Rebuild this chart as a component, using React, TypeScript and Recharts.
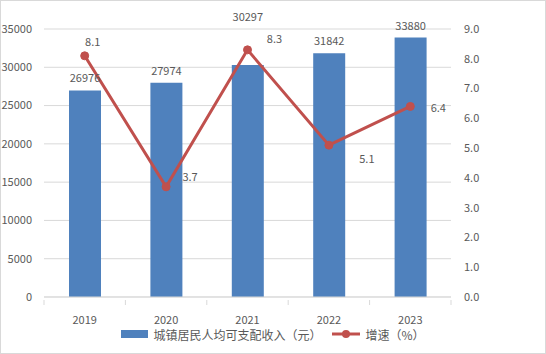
import React from 'react';
import { ComposedChart, Bar, Line, XAxis, YAxis, CartesianGrid, Legend, LabelList } from 'recharts';

const years = ['2019', '2020', '2021', '2022', '2023'];
const income = [26976, 27974, 30297, 31842, 33880];
const growth = [8.1, 3.7, 8.3, 5.1, 6.4];
const leftTicks = [0, 5000, 10000, 15000, 20000, 25000, 30000, 35000];
const rightTicks = [0, 1, 2, 3, 4, 5, 6, 7, 8, 9];

const data = years.map((y, i) => ({ year: y, income: income[i], growth: growth[i] }));

const TEXT = '#595959';
const FONT = '"Noto Sans CJK SC", "Noto Sans", sans-serif';

const barLabelOffsets = [-8, -8, -44, -8, -8];
const lineLabelOffsets: [number, number][] = [
  [8, -15],
  [24, -11],
  [27, -12],
  [38, 13],
  [28, 1],
];

const BarLabel = (props: any) => {
  const { x, y, width, value, index } = props;
  return (
    <text x={x + width / 2} y={y + barLabelOffsets[index]} textAnchor="middle" fill={TEXT} fontSize={11} fontFamily={FONT}>
      {value}
    </text>
  );
};

const LineLabel = (props: any) => {
  const { x, y, value, index } = props;
  const [dx, dy] = lineLabelOffsets[index];
  return (
    <text x={x + dx} y={y + dy} textAnchor="middle" dominantBaseline="central" fill={TEXT} fontSize={11} fontFamily={FONT}>
      {Number(value).toFixed(1)}
    </text>
  );
};

const XTick = (props: any) => {
  const { x, y, payload, index } = props;
  const off = payload.offset || 0;
  return (
    <g>
      <line x1={x - off} x2={x - off} y1={y - 5} y2={y} stroke="#d9d9d9" />
      {index === years.length - 1 && <line x1={x + off} x2={x + off} y1={y - 5} y2={y} stroke="#d9d9d9" />}
      <text x={x} y={y + 19} textAnchor="middle" fill={TEXT} fontSize={11} fontFamily={FONT}>
        {payload.value}
      </text>
    </g>
  );
};

const LegendContent = () => (
  <div style={{ height: 20, display: 'flex', justifyContent: 'center', alignItems: 'center', fontFamily: FONT, fontSize: 12, color: TEXT, paddingLeft: 0 }}>
    <svg width={28} height={10} style={{ marginRight: 4 }}>
      <rect x={0} y={1} width={27} height={8} fill="#4f81bd" />
    </svg>
    <span style={{ marginRight: 10 }}>城镇居民人均可支配收入（元）</span>
    <svg width={30} height={10} style={{ marginRight: 4 }}>
      <line x1={1} x2={29} y1={5} y2={5} stroke="#c0504d" strokeWidth={3} />
      <circle cx={15} cy={5} r={4} fill="#c0504d" />
    </svg>
    <span>增速（%）</span>
  </div>
);

export default function App() {
  return (
    <div style={{ position: 'absolute', left: 0, top: 0, width: 546, height: 354, background: '#fff' }}>
      <div style={{ position: 'absolute', left: 0, top: 0, width: 544, height: 352, border: '1px solid #d9d9d9' }} />
      <ComposedChart width={546} height={354} data={data} margin={{ top: 29, right: 0, bottom: 10, left: 0 }}>
        <CartesianGrid vertical={false} stroke="#d9d9d9" yAxisId="left" />
        <XAxis dataKey="year" axisLine={{ stroke: '#d9d9d9' }} tickLine={false} tick={<XTick />} height={27} interval={0} />
        <YAxis
          yAxisId="left"
          domain={[0, 35000]}
          ticks={leftTicks}
          width={44}
          axisLine={false}
          tickLine={false}
          tickMargin={6}
          tick={{ fill: TEXT, fontSize: 11, fontFamily: FONT }}
        />
        <YAxis
          yAxisId="right"
          orientation="right"
          domain={[0, 9]}
          ticks={rightTicks}
          width={95}
          axisLine={false}
          tickLine={false}
          tickMargin={7}
          tickFormatter={(v: number) => v.toFixed(1)}
          tick={{ fill: TEXT, fontSize: 11, fontFamily: FONT }}
        />
        <Bar yAxisId="left" dataKey="income" fill="#4f81bd" barSize={32} isAnimationActive={false}>
          <LabelList dataKey="income" content={<BarLabel />} />
        </Bar>
        <Line
          yAxisId="right"
          dataKey="growth"
          stroke="#c0504d"
          strokeWidth={3}
          dot={{ r: 4, fill: '#c0504d', stroke: '#c0504d', strokeWidth: 1 }}
          isAnimationActive={false}
        >
          <LabelList dataKey="growth" content={<LineLabel />} />
        </Line>
        <Legend verticalAlign="bottom" content={<LegendContent />} />
      </ComposedChart>
    </div>
  );
}
